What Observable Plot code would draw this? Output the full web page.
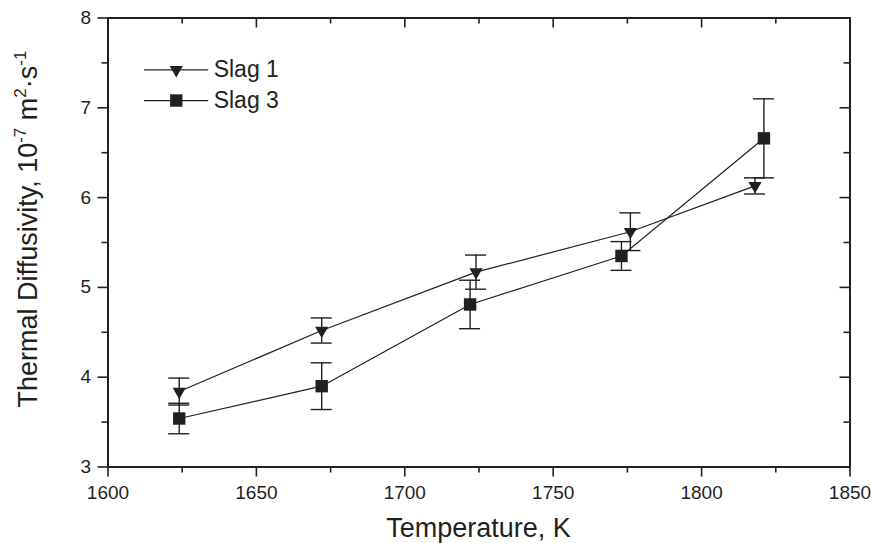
<!DOCTYPE html>
<html>
<head>
<meta charset="utf-8">
<script src="https://cdn.jsdelivr.net/npm/d3@7"></script>
<script src="https://cdn.jsdelivr.net/npm/@observablehq/plot@0.6"></script>
<style>
  html, body { margin: 0; padding: 0; background: #fff; }
</style>
</head>
<body>
<div id="chart"></div>
<script>
// ---- data ----
const temperatureSlag1 = [1624, 1672, 1724, 1776, 1818];
const diffusivitySlag1 = [3.84, 4.52, 5.17, 5.62, 6.13];
const errorSlag1 = [0.15, 0.14, 0.19, 0.21, 0.09];

const temperatureSlag3 = [1624, 1672, 1722, 1773, 1821];
const diffusivitySlag3 = [3.54, 3.90, 4.81, 5.35, 6.66];
const errorSlag3 = [0.17, 0.26, 0.27, 0.16, 0.44];

const seriesNames = ["Slag 1", "Slag 3"];
const xMajorTicks = [1600, 1650, 1700, 1750, 1800, 1850];
const xMinorTicks = [1625, 1675, 1725, 1775, 1825];
const yMajorTicks = [3, 4, 5, 6, 7, 8];
const yMinorTicks = [3.5, 4.5, 5.5, 6.5, 7.5];
const xTitle = "Temperature, K";
const yTitleParts = [["Thermal Diffusivity, 10", false], ["-7", true], [" m", false], ["2", true], ["\u00B7s", false], ["-1", true]];

// ---- layout ----
const W = 871, H = 543;
const mL = 107.5, mR = 21.5, mT = 17.5, mB = 76.5;
const innerW = W - mL - mR, innerH = H - mT - mB;
const ink = "#231f20";
const legendPos = {x1: 1612.3, x2: 1633.9, xm: 1623.0, xt: 1635.6, y: [7.423, 7.081]};

const rows = (name, ts, vs, es) => ts.map((t, i) => ({series: name, t, v: vs[i], e: es[i]}));
const slag1 = rows(seriesNames[0], temperatureSlag1, diffusivitySlag1, errorSlag1);
const slag3 = rows(seriesNames[1], temperatureSlag3, diffusivitySlag3, errorSlag3);
const all = slag1.concat(slag3);

const triR = 4.9, sqR = 7;

const plot = Plot.plot({
  width: W, height: H,
  marginLeft: mL, marginRight: mR, marginTop: mT, marginBottom: mB,
  style: {fontFamily: "'Liberation Sans', Arial, sans-serif", fontSize: "19px", color: ink, background: "#fff"},
  x: {domain: [1600, 1850]},
  y: {domain: [3, 8]},
  marks: [
    // axes (outward on bottom/left)
    Plot.axisX(xMajorTicks, {anchor: "bottom", tickSize: 10, tickPadding: 8, strokeWidth: 1.6, label: null, fontSize: 19, tickFormat: d => String(d)}),
    Plot.tickX(xMinorTicks, {x: d => d, insetTop: innerH, insetBottom: -6, stroke: ink, strokeWidth: 1.6}),
    Plot.axisY(yMajorTicks, {anchor: "left", tickSize: 10, tickPadding: 7, strokeWidth: 1.6, label: null, fontSize: 19, tickFormat: d => String(d)}),
    Plot.tickY(yMinorTicks, {y: d => d, insetLeft: -6, insetRight: innerW, stroke: ink, strokeWidth: 1.6}),
    // inward ticks top/right
    Plot.tickX(xMajorTicks, {x: d => d, insetBottom: innerH - 10, stroke: ink, strokeWidth: 1.6}),
    Plot.tickX(xMinorTicks, {x: d => d, insetBottom: innerH - 6, stroke: ink, strokeWidth: 1.6}),
    Plot.tickY(yMajorTicks, {y: d => d, insetLeft: innerW - 10, stroke: ink, strokeWidth: 1.6}),
    Plot.tickY(yMinorTicks, {y: d => d, insetLeft: innerW - 6, stroke: ink, strokeWidth: 1.6}),
    Plot.frame({stroke: ink, strokeWidth: 2}),
    // error bars
    Plot.ruleX(all, {x: "t", y1: d => d.v - d.e, y2: d => d.v + d.e, stroke: ink, strokeWidth: 1.4}),
    Plot.ruleY(all, {x1: "t", x2: "t", y: d => d.v + d.e, insetLeft: -10.5, insetRight: -10.5, stroke: ink, strokeWidth: 1.4}),
    Plot.ruleY(all, {x1: "t", x2: "t", y: d => d.v - d.e, insetLeft: -10.5, insetRight: -10.5, stroke: ink, strokeWidth: 1.4}),
    // lines
    Plot.line(slag1, {x: "t", y: "v", stroke: ink, strokeWidth: 1.2}),
    Plot.line(slag3, {x: "t", y: "v", stroke: ink, strokeWidth: 1.2}),
    // markers
    Plot.dot(slag1, {x: "t", y: "v", symbol: "triangle", rotate: 180, r: triR, fill: ink, stroke: null}),
    Plot.dot(slag3, {x: "t", y: "v", symbol: "square", r: sqR, fill: ink, stroke: null}),
    // legend
    Plot.ruleY(legendPos.y, {y: d => d, x1: legendPos.x1, x2: legendPos.x2, stroke: ink, strokeWidth: 1.2}),
    Plot.dot([seriesNames[0]], {x: legendPos.xm, y: legendPos.y[0], symbol: "triangle", rotate: 180, r: triR, fill: ink, stroke: null}),
    Plot.dot([seriesNames[1]], {x: legendPos.xm, y: legendPos.y[1], symbol: "square", r: sqR, fill: ink, stroke: null}),
    Plot.text(seriesNames, {x: legendPos.xt, y: (d, i) => legendPos.y[i], text: d => d, textAnchor: "start", fontSize: 23, fill: ink})
  ]
});

document.getElementById("chart").appendChild(plot);

// axis titles
const svg = d3.select(plot.tagName.toLowerCase() === "svg" ? plot : plot.querySelector("svg"));
svg.append("text")
  .attr("x", mL + innerW / 2).attr("y", 537)
  .attr("text-anchor", "middle")
  .attr("font-size", 27)
  .attr("fill", ink)
  .text(xTitle);

const yt = svg.append("text")
  .attr("transform", "translate(36.5,229) rotate(-90)")
  .attr("text-anchor", "middle")
  .attr("font-size", 27)
  .attr("fill", ink);
let raised = false;
yTitleParts.forEach(([s, sup]) => {
  const ts = yt.append("tspan").text(s);
  if (sup && !raised) { ts.attr("dy", -11).attr("font-size", 17); raised = true; }
  else if (sup) { ts.attr("font-size", 17); }
  else if (!sup && raised) { ts.attr("dy", 11); raised = false; }
});
</script>
</body>
</html>
